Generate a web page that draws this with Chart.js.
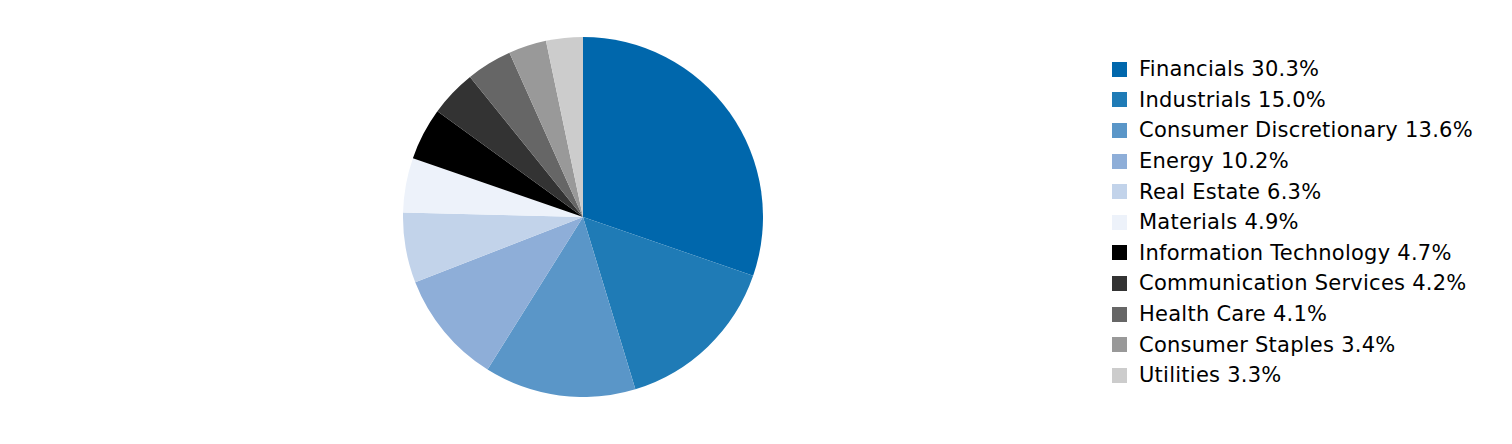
<!DOCTYPE html>
<html>
<head>
<meta charset="utf-8">
<script src="https://cdn.jsdelivr.net/npm/chart.js@4"></script>
<style>
  html, body { margin: 0; padding: 0; background: #fff; }
  body { width: 1512px; height: 444px; position: relative; overflow: hidden; font-family: Verdana, "DejaVu Sans", sans-serif; }
  #pie-wrap { position: absolute; left: 403px; top: 37px; width: 360px; height: 360px; }
  #legend { position: absolute; left: 1112px; top: 54px; margin: 0; padding: 0; list-style: none; }
  #legend li { height: 30.6px; line-height: 30px; font-size: 21px; letter-spacing: 0.25px; color: #000; white-space: nowrap; display: flex; align-items: center; }
  #legend .sw { width: 15px; height: 15px; margin-right: 12px; flex: none; }
</style>
</head>
<body>
<div id="pie-wrap"><canvas id="pie"></canvas></div>
<ul id="legend"></ul>
<script>
const sectors = ['Financials', 'Industrials', 'Consumer Discretionary', 'Energy', 'Real Estate', 'Materials',
  'Information Technology', 'Communication Services', 'Health Care', 'Consumer Staples', 'Utilities'];
const weights = [30.3, 15.0, 13.6, 10.2, 6.3, 4.9, 4.7, 4.2, 4.1, 3.4, 3.3];
const colors = ['#0067ac', '#1f7bb6', '#5a96c8', '#8eaed8', '#c2d3ea', '#edf2fa',
  '#000000', '#333333', '#666666', '#999999', '#cccccc'];

new Chart(document.getElementById('pie'), {
  type: 'pie',
  data: {
    labels: sectors,
    datasets: [{ data: weights, backgroundColor: colors, borderWidth: 0 }],
  },
  options: {
    responsive: true,
    maintainAspectRatio: false,
    animation: false,
    layout: { padding: 0 },
    plugins: { legend: { display: false }, tooltip: { enabled: false } },
  },
});

// legend rows
document.getElementById('legend').innerHTML = sectors.map((s, i) => `
  <li><span class="sw" style="background:${colors[i]};"></span>${s} ${weights[i].toFixed(1)}%</li>
`).join('');
</script>
</body>
</html>
